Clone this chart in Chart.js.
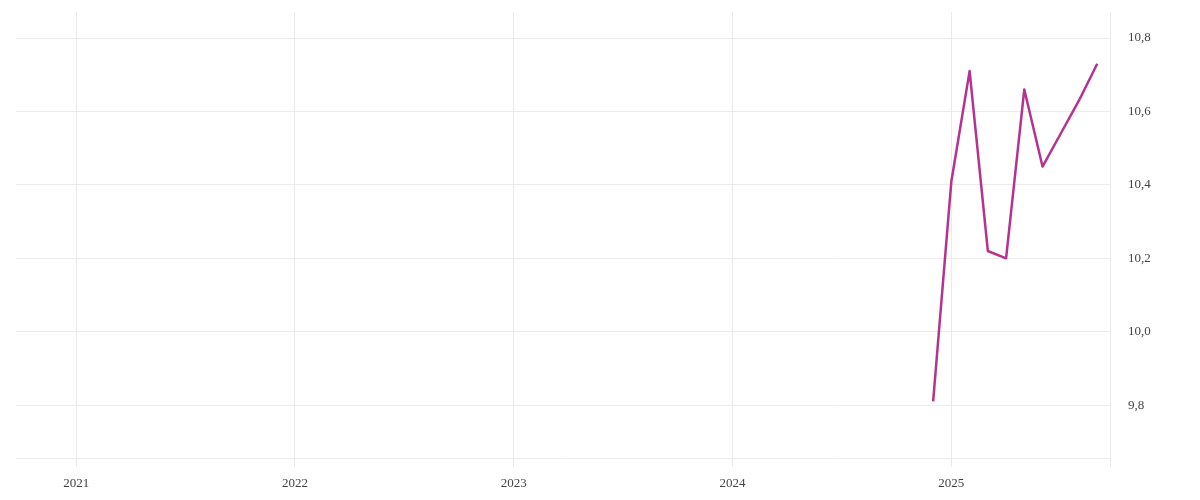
<!DOCTYPE html>
<html>
<head>
<meta charset="utf-8">
<script src="https://cdn.jsdelivr.net/npm/chart.js@4.4.1/dist/chart.umd.min.js"></script>
<style>
  html, body { margin: 0; padding: 0; background: #fff; }
  #wrap { width: 1200px; height: 500px; position: relative; }
</style>
</head>
<body>
<div id="wrap"><canvas id="rateChart"></canvas></div>
<script>
// monthly observations (only the last ten months have values)
const months = ["2024-12", "2025-01", "2025-02", "2025-03", "2025-04",
                "2025-05", "2025-06", "2025-07", "2025-08", "2025-09"];
const rateValues = [9.81, 10.41, 10.71, 10.22, 10.20, 10.66, 10.45, 10.54, 10.63, 10.73];

const yearTicks = [2021, 2022, 2023, 2024, 2025];
const valueTicks = [9.8, 10.0, 10.2, 10.4, 10.6, 10.8];

const baseYear = yearTicks[0];
const xMin = -3.3;
const xMax = 56.7;

// month label -> months since January of the first tick year
function monthIndex(label){
    let parts = label.split("-");
    return (parseInt(parts[0]) - baseYear) * 12 + (parseInt(parts[1]) - 1);
}

let points = [];
for(let i = 0; i < months.length; i++){
    points.push({x: monthIndex(months[i]), y: rateValues[i]});
}

const gridColor = "#ebebeb";
const textColor = "#444";
const tickFont = {family: "'Liberation Serif', serif", size: 13};

new Chart("rateChart", {
    type: "line",
    data: {
        datasets: [{
            data: points,
            borderColor: "#b5338f",
            borderWidth: 2.5,
            borderJoinStyle: "round",
            pointRadius: 0,
            tension: 0,
            fill: false
        }]
    },
    options: {
        responsive: true,
        maintainAspectRatio: false,
        animation: false,
        layout: {padding: {left: 16, top: 12, right: 0, bottom: 0}},
        plugins: {legend: {display: false}, tooltip: {enabled: false}},
        scales: {
            x: {
                type: "linear",
                min: xMin,
                max: xMax,
                afterBuildTicks: function(scale){
                    let t = yearTicks.map(function(y){ return {value: (y - baseYear) * 12}; });
                    t.push({value: xMax});
                    scale.ticks = t;
                },
                afterFit: function(scale){
                    scale.height = 42;
                    scale.paddingLeft = 0;
                    scale.paddingRight = 0;
                },
                grid: {color: gridColor, tickLength: 9, drawOnChartArea: true},
                border: {display: true, color: gridColor},
                ticks: {
                    color: textColor,
                    font: tickFont,
                    padding: 9,
                    maxRotation: 0,
                    autoSkip: false,
                    callback: function(v){
                        if(v === xMax) return "";
                        return String(baseYear + Math.round(v / 12));
                    }
                }
            },
            y: {
                position: "right",
                min: 9.656,
                max: 10.871,
                afterBuildTicks: function(scale){
                    scale.ticks = valueTicks.map(function(v){ return {value: v}; });
                },
                afterFit: function(scale){
                    scale.width = 90;
                    scale.paddingTop = 0;
                    scale.paddingBottom = 0;
                },
                grid: {color: gridColor, drawTicks: false},
                border: {display: false},
                ticks: {
                    color: textColor,
                    font: tickFont,
                    padding: 18,
                    crossAlign: "near",
                    callback: function(v){ return v.toFixed(1).replace(".", ","); }
                }
            }
        }
    }
});
</script>
</body>
</html>
